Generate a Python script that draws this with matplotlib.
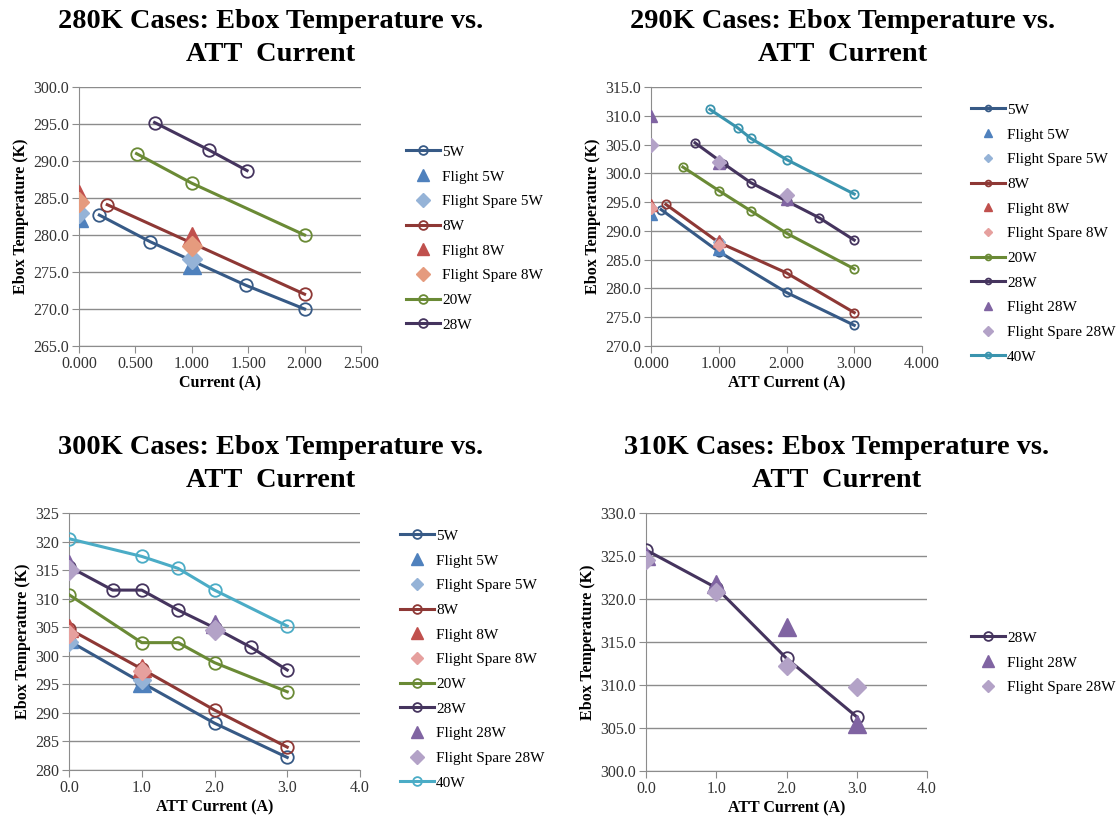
import matplotlib
matplotlib.use("Agg")
import matplotlib.pyplot as plt
from matplotlib.ticker import MultipleLocator, FormatStrFormatter

plt.rcParams['font.family'] = ['Liberation Serif', 'DejaVu Serif']

# ---- 280K data ----
k280_5w_x = [0.18, 0.63, 1.48, 2.0]
k280_5w_y = [282.7, 279.1, 273.2, 270.0]
k280_f5w_x = [0.0, 1.0]
k280_f5w_y = [282.3, 275.9]
k280_fs5w_x = [0.0, 1.0]
k280_fs5w_y = [283.0, 276.8]
k280_8w_x = [0.25, 2.0]
k280_8w_y = [284.1, 272.0]
k280_f8w_x = [0.0, 1.0]
k280_f8w_y = [285.5, 279.8]
k280_fs8w_x = [0.0, 1.0]
k280_fs8w_y = [284.5, 278.5]
k280_20w_x = [0.51, 1.0, 2.0]
k280_20w_y = [291.0, 287.0, 280.0]
k280_28w_x = [0.67, 1.15, 1.49]
k280_28w_y = [295.2, 291.5, 288.7]

# ---- 290K data ----
k290_5w_x = [0.15, 1.0, 2.0, 3.0]
k290_5w_y = [293.7, 286.4, 279.3, 273.6]
k290_f5w_x = [0.0, 1.0]
k290_f5w_y = [293.0, 286.8]
k290_fs5w_x = [0.0, 1.0]
k290_fs5w_y = [294.0, 288.0]
k290_8w_x = [0.22, 1.0, 2.0, 3.0]
k290_8w_y = [294.6, 288.0, 282.7, 275.8]
k290_f8w_x = [0.0, 1.0]
k290_f8w_y = [294.5, 288.3]
k290_fs8w_x = [0.0, 1.0]
k290_fs8w_y = [294.0, 287.5]
k290_20w_x = [0.47, 1.0, 1.47, 2.0, 3.0]
k290_20w_y = [301.1, 297.0, 293.5, 289.6, 283.4]
k290_28w_x = [0.65, 1.07, 1.47, 2.0, 2.48, 3.0]
k290_28w_y = [305.3, 301.7, 298.4, 295.2, 292.3, 288.4]
k290_f28w_x = [0.0, 1.0, 2.0]
k290_f28w_y = [310.0, 301.8, 295.5]
k290_fs28w_x = [0.0, 1.0, 2.0]
k290_fs28w_y = [305.0, 302.0, 296.3]
k290_40w_x = [0.87, 1.28, 1.47, 2.0, 3.0]
k290_40w_y = [311.1, 307.9, 306.1, 302.4, 296.4]

# ---- 300K data ----
k300_5w_x = [0.0, 1.0, 2.0, 3.0]
k300_5w_y = [302.6, 295.3, 288.2, 282.2]
k300_f5w_x = [0.0, 1.0]
k300_f5w_y = [303.0, 295.3]
k300_fs5w_x = [0.0, 1.0]
k300_fs5w_y = [302.5, 295.8]
k300_8w_x = [0.0, 1.0, 2.0, 3.0]
k300_8w_y = [304.7, 297.7, 290.5, 284.0]
k300_f8w_x = [0.0, 1.0]
k300_f8w_y = [304.8, 297.8]
k300_fs8w_x = [0.0, 1.0]
k300_fs8w_y = [303.8, 297.3]
k300_20w_x = [0.0, 1.0, 1.5, 2.0, 3.0]
k300_20w_y = [310.7, 302.3, 302.3, 298.8, 293.7]
k300_28w_x = [0.0, 0.6, 1.0, 1.5, 2.0, 2.5, 3.0]
k300_28w_y = [315.6, 311.5, 311.5, 308.0, 304.9, 301.5, 297.5]
k300_f28w_x = [0.0, 2.0]
k300_f28w_y = [316.0, 305.5]
k300_fs28w_x = [0.0, 2.0]
k300_fs28w_y = [315.0, 304.5]
k300_40w_x = [0.0, 1.0, 1.5, 2.0, 3.0]
k300_40w_y = [320.5, 317.4, 315.3, 311.5, 305.2]

# ---- 310K data ----
k310_28w_x = [0.0, 1.0, 2.0, 3.0]
k310_28w_y = [325.7, 321.3, 313.1, 306.3]
k310_f28w_x = [0.0, 1.0, 2.0, 3.0]
k310_f28w_y = [325.0, 321.8, 316.8, 305.5]
k310_fs28w_x = [0.0, 1.0, 2.0, 3.0]
k310_fs28w_y = [324.5, 320.8, 312.2, 309.8]

# colours
c5 = '#375A86'
c8 = '#8E3835'
c20 = '#6A8A35'
c28 = '#45345E'
c40 = '#3A94AE'
cf5 = '#4F81BD'
cfs5 = '#95B3D7'
cf8 = '#C0504D'
cfs8 = '#E6A09E'
cf28 = '#8064A2'
cfs28 = '#B3A2C7'

W, H = 1119, 823
fig = plt.figure(figsize=(W / 100, H / 100), dpi=100)


def make_ax(l, t, r, b):
    ax = fig.add_axes([l / W, 1 - b / H, (r - l) / W, (b - t) / H])
    ax.set_facecolor('white')
    for s in ['top', 'right']:
        ax.spines[s].set_visible(False)
    for s in ['left', 'bottom']:
        ax.spines[s].set_color('#8C8C8C')
    ax.yaxis.grid(True, color='#8C8C8C', linewidth=1.0)
    ax.set_axisbelow(True)
    ax.tick_params(axis='both', colors='#8C8C8C', labelcolor='#333333', labelsize=11.5, length=5, pad=2)
    return ax


def line(ax, x, y, c, lab, ms):
    ax.plot(x, y, color=c, lw=2.2, marker='o', ms=ms, mfc='none', mec=c, mew=1.3, label=lab, zorder=3)


def pts(ax, x, y, c, m, lab, ms):
    ax.plot(x, y, ls='none', marker=m, ms=ms, color=c, mec=c, label=lab, zorder=4)


def finish(ax, title, tx, ty, xlab, leg_x, leg_y):
    fig.text(tx / W, 1 - ty / H, title, ha='center', va='center', fontsize=20.4, fontweight='bold', linespacing=1.45)
    ax.set_xlabel(xlab, fontsize=11.5, fontweight='bold', labelpad=3)
    ax.set_ylabel('Ebox Temperature (K)', fontsize=11.5, fontweight='bold', labelpad=3)
    leg = ax.legend(loc='upper left', bbox_to_anchor=(leg_x / W, 1 - leg_y / H), bbox_transform=fig.transFigure,
                    frameon=False, fontsize=11, handlelength=2.2, labelspacing=0.72, markerscale=0.7,
                    handletextpad=0.15, borderaxespad=0)
    return leg


# ---- 280K panel ----
ax1 = make_ax(79, 87, 361, 346)
line(ax1, k280_5w_x, k280_5w_y, c5, '5W', 9)
pts(ax1, k280_f5w_x, k280_f5w_y, cf5, '^', 'Flight 5W', 13)
pts(ax1, k280_fs5w_x, k280_fs5w_y, cfs5, 'D', 'Flight Spare 5W', 10)
line(ax1, k280_8w_x, k280_8w_y, c8, '8W', 9)
pts(ax1, k280_f8w_x, k280_f8w_y, cf8, '^', 'Flight 8W', 13)
pts(ax1, k280_fs8w_x, k280_fs8w_y, '#E59B7E', 'D', 'Flight Spare 8W', 10)
line(ax1, k280_20w_x, k280_20w_y, c20, '20W', 9)
line(ax1, k280_28w_x, k280_28w_y, c28, '28W', 9)
ax1.set_xlim(0, 2.5)
ax1.set_ylim(265, 300)
ax1.xaxis.set_major_locator(MultipleLocator(0.5))
ax1.yaxis.set_major_locator(MultipleLocator(5))
ax1.xaxis.set_major_formatter(FormatStrFormatter('%.3f'))
ax1.yaxis.set_major_formatter(FormatStrFormatter('%.1f'))
finish(ax1, '280K Cases: Ebox Temperature vs.\nATT  Current', 271, 38, 'Current (A)', 400, 139)

# ---- 290K panel ----
ax2 = make_ax(651, 87, 922, 346)
line(ax2, k290_5w_x, k290_5w_y, c5, '5W', 6)
pts(ax2, k290_f5w_x, k290_f5w_y, cf5, '^', 'Flight 5W', 9)
pts(ax2, k290_fs5w_x, k290_fs5w_y, cfs5, 'D', 'Flight Spare 5W', 6)
line(ax2, k290_8w_x, k290_8w_y, c8, '8W', 6)
pts(ax2, k290_f8w_x, k290_f8w_y, cf8, '^', 'Flight 8W', 9)
pts(ax2, k290_fs8w_x, k290_fs8w_y, cfs8, 'D', 'Flight Spare 8W', 6)
line(ax2, k290_20w_x, k290_20w_y, c20, '20W', 6)
line(ax2, k290_28w_x, k290_28w_y, c28, '28W', 6)
pts(ax2, k290_f28w_x, k290_f28w_y, cf28, '^', 'Flight 28W', 9)
pts(ax2, k290_fs28w_x, k290_fs28w_y, cfs28, 'D', 'Flight Spare 28W', 7)
line(ax2, k290_40w_x, k290_40w_y, c40, '40W', 6)
ax2.set_xlim(0, 4)
ax2.set_ylim(270, 315)
ax2.xaxis.set_major_locator(MultipleLocator(1))
ax2.yaxis.set_major_locator(MultipleLocator(5))
ax2.xaxis.set_major_formatter(FormatStrFormatter('%.3f'))
ax2.yaxis.set_major_formatter(FormatStrFormatter('%.1f'))
finish(ax2, '290K Cases: Ebox Temperature vs.\nATT  Current', 843, 38, 'ATT Current (A)', 965, 97)

# ---- 300K panel ----
ax3 = make_ax(69, 513, 360, 770)
line(ax3, k300_5w_x, k300_5w_y, c5, '5W', 9)
pts(ax3, k300_f5w_x, k300_f5w_y, cf5, '^', 'Flight 5W', 13)
pts(ax3, k300_fs5w_x, k300_fs5w_y, cfs5, 'D', 'Flight Spare 5W', 9)
line(ax3, k300_8w_x, k300_8w_y, c8, '8W', 9)
pts(ax3, k300_f8w_x, k300_f8w_y, cf8, '^', 'Flight 8W', 13)
pts(ax3, k300_fs8w_x, k300_fs8w_y, cfs8, 'D', 'Flight Spare 8W', 9)
line(ax3, k300_20w_x, k300_20w_y, c20, '20W', 9)
line(ax3, k300_28w_x, k300_28w_y, c28, '28W', 9)
pts(ax3, k300_f28w_x, k300_f28w_y, cf28, '^', 'Flight 28W', 13)
pts(ax3, k300_fs28w_x, k300_fs28w_y, cfs28, 'D', 'Flight Spare 28W', 10)
line(ax3, k300_40w_x, k300_40w_y, '#4BACC6', '40W', 9)
ax3.set_xlim(0, 4)
ax3.set_ylim(280, 325)
ax3.xaxis.set_major_locator(MultipleLocator(1))
ax3.yaxis.set_major_locator(MultipleLocator(5))
ax3.xaxis.set_major_formatter(FormatStrFormatter('%.1f'))
ax3.yaxis.set_major_formatter(FormatStrFormatter('%d'))
finish(ax3, '300K Cases: Ebox Temperature vs.\nATT  Current', 271, 464, 'ATT Current (A)', 394, 523)

# ---- 310K panel ----
ax4 = make_ax(646, 513, 927, 771)
line(ax4, k310_28w_x, k310_28w_y, c28, '28W', 9)
pts(ax4, k310_f28w_x, k310_f28w_y, cf28, '^', 'Flight 28W', 13)
pts(ax4, k310_fs28w_x, k310_fs28w_y, cfs28, 'D', 'Flight Spare 28W', 9)
ax4.set_xlim(0, 4)
ax4.set_ylim(300, 330)
ax4.xaxis.set_major_locator(MultipleLocator(1))
ax4.yaxis.set_major_locator(MultipleLocator(5))
ax4.xaxis.set_major_formatter(FormatStrFormatter('%.1f'))
ax4.yaxis.set_major_formatter(FormatStrFormatter('%.1f'))
finish(ax4, '310K Cases: Ebox Temperature vs.\nATT  Current', 837, 464, 'ATT Current (A)', 965, 625)

fig.savefig('out.png', dpi=100, facecolor='white')
